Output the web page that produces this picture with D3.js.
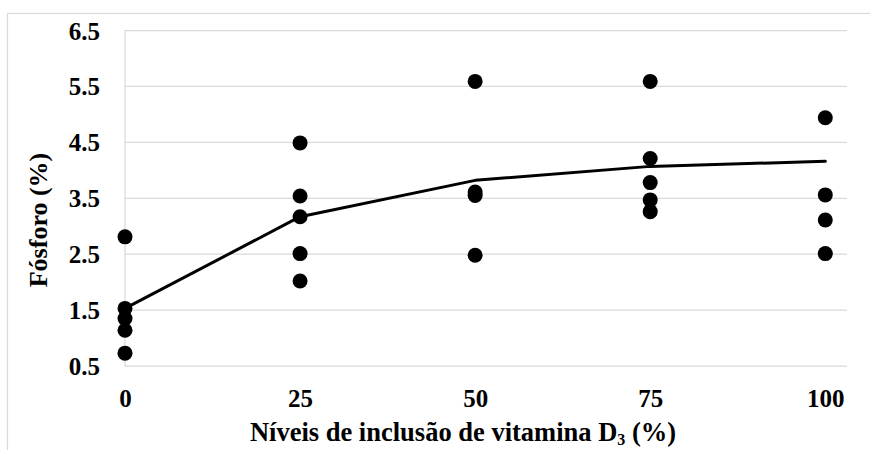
<html>
<head>
<meta charset="utf-8">
<script src="https://d3js.org/d3.v7.min.js"></script>
<style>
  body { margin:0; background:#fff; }
  text { font-family: "Times New Roman", "Liberation Serif", serif; font-weight:bold; fill:#000; }
</style>
</head>
<body>
<svg width=870 height=450></svg>
<script>

// data
var levels = [0, 25, 50, 75, 100];
var obs0   = [2.81, 1.53, 1.35, 1.14, 0.73];
var obs25  = [4.49, 3.54, 3.17, 2.51, 2.02];
var obs50  = [5.59, 3.61, 3.55, 2.48];
var obs75  = [5.59, 4.21, 3.78, 3.47, 3.26];
var obs100 = [4.94, 3.56, 3.11, 2.51];
var fitted = [1.53, 3.17, 3.82, 4.07, 4.16];
var yTicks = [0.5, 1.5, 2.5, 3.5, 4.5, 5.5, 6.5];

var groups = [obs0, obs25, obs50, obs75, obs100];

var svg = d3.select("svg");
var ff = '"Times New Roman","Liberation Serif",serif';

// chart area border
svg.append("rect")
  .attr("x",7.5).attr("y",13.5).attr("width",880).attr("height",460)
  .attr("fill","none").attr("stroke","#d9d9d9").attr("stroke-width",1.2);

var x = d3.scaleLinear().domain([0,103.1]).range([125,847]);
var y = d3.scaleLinear().domain([0.5,6.5]).range([366,30.5]);

// gridlines
svg.append("g").selectAll("line").data(yTicks).enter().append("line")
  .attr("x1",125).attr("x2",847)
  .attr("y1",function(d){return y(d);}).attr("y2",function(d){return y(d);})
  .attr("stroke","#d9d9d9").attr("stroke-width",1.25);

svg.append("line")
  .attr("x1",125).attr("x2",125).attr("y1",y(6.5)).attr("y2",y(0.5))
  .attr("stroke","#d9d9d9").attr("stroke-width",1.25);

// y axis labels
var yAxis = d3.axisLeft(y).tickValues(yTicks).tickFormat(d3.format(".1f")).tickSize(0).tickPadding(25);
var gy = svg.append("g").attr("transform","translate(125,0)").call(yAxis);
gy.select(".domain").remove();
gy.selectAll("text").attr("font-size",25).attr("dy","0.34em")
  .style("font-family",ff).style("font-weight","bold");

// x axis labels
var xAxis = d3.axisBottom(x).tickValues(levels).tickSize(0).tickPadding(23);
var gx = svg.append("g").attr("transform","translate(0,366)").call(xAxis);
gx.select(".domain").remove();
gx.selectAll("text").attr("font-size",25)
  .style("font-family",ff).style("font-weight","bold");

// fitted line
var line = d3.line()
  .x(function(d,i){return x(levels[i]);})
  .y(function(d){return y(d);});
svg.append("path").datum(fitted)
  .attr("d",line).attr("fill","none").attr("stroke","#000").attr("stroke-width",3)
  .attr("stroke-linecap","round").attr("stroke-linejoin","round");

// points
var pts = [];
groups.forEach(function(g,i){
  g.forEach(function(v){ pts.push({x:levels[i], y:v}); });
});
svg.append("g").selectAll("circle").data(pts).enter().append("circle")
  .attr("cx",function(d){return x(d.x);})
  .attr("cy",function(d){return y(d.y);})
  .attr("r",7.5).attr("fill","#000");

// axis titles
var xt = svg.append("text").attr("x",463).attr("y",441).attr("text-anchor","middle").attr("font-size",26.5);
xt.append("tspan").text("Níveis de inclusão de vitamina D");
xt.append("tspan").attr("font-size",16).attr("dy",4).text("3");
xt.append("tspan").attr("dy",-4).text(" (%)");

svg.append("text")
  .attr("transform","translate(47,220) rotate(-90)")
  .attr("text-anchor","middle").attr("font-size",26)
  .text("Fósforo (%)");

</script>
</body>
</html>
